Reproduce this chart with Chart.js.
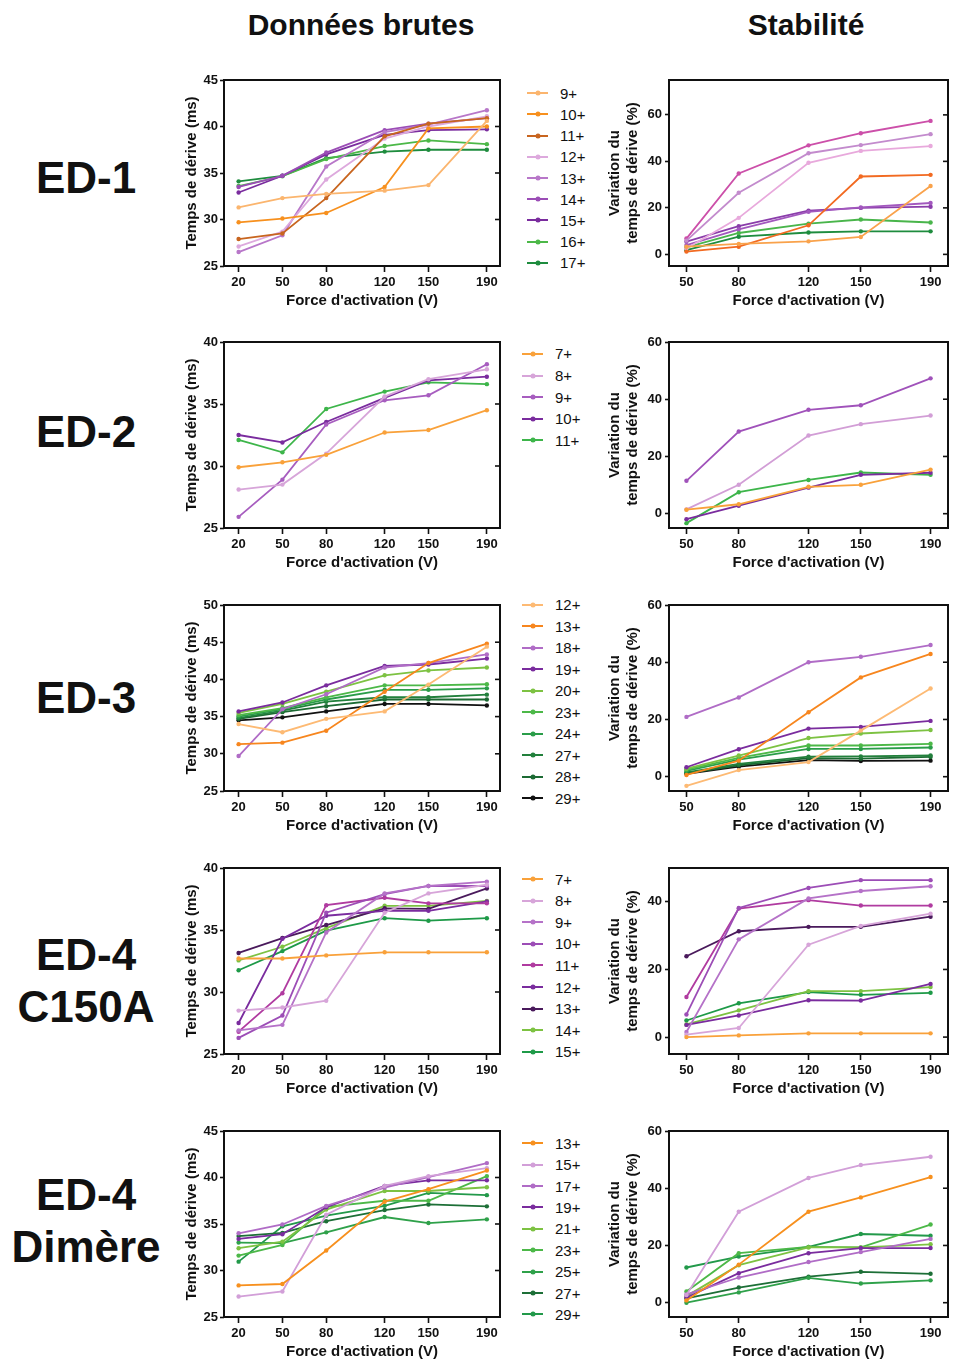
<!DOCTYPE html>
<html><head><meta charset="utf-8">
<script src="https://cdn.jsdelivr.net/npm/chart.js@4.4.1/dist/chart.umd.min.js"></script>
<style>
body{margin:0;background:#fff;width:953px;height:1365px;position:relative;overflow:hidden;font-family:"Liberation Sans",Arial,sans-serif;color:#111}
.title{position:absolute;font-size:30px;font-weight:bold;transform:translate(-50%,-50%);white-space:nowrap;line-height:1}
.rowlab{position:absolute;font-size:44px;font-weight:bold;transform:translate(-50%,-50%);text-align:center;line-height:52px;white-space:nowrap}
.leg{position:absolute}
.item{display:flex;align-items:center;font-size:15px;white-space:nowrap}
.sw{position:relative;width:21px;height:2px;margin-right:12px}
.sw i{position:absolute;left:50%;top:50%;width:5px;height:5px;border-radius:50%;transform:translate(-50%,-50%)}
canvas{position:absolute}
</style></head><body>
<div class="title" style="left:361px;top:25px">Données brutes</div>
<div class="title" style="left:806px;top:25px">Stabilité</div>
<div class="rowlab" style="left:86px;top:178px">ED-1</div>
<div class="rowlab" style="left:86px;top:432px">ED-2</div>
<div class="rowlab" style="left:86px;top:698px">ED-3</div>
<div class="rowlab" style="left:86px;top:981px">ED-4<br>C150A</div>
<div class="rowlab" style="left:86px;top:1221px">ED-4<br>Dimère</div>
<script>
// ---------- data ----------
const voltsRaw = [20, 50, 80, 120, 150, 190];
const voltsVar = [50, 80, 120, 150, 190];
const xTitle = "Force d'activation (V)";
const yTitleRaw = "Temps de dérive (ms)";
const yTitleVar = ["Variation du", "temps de dérive (%)"];

// ED-1
const ed1Ions = ['9+','10+','11+','12+','13+','14+','15+','16+','17+'];
const ed1Raw = [
  [31.3, 32.3, 32.75, 33.1, 33.7, 40.6],
  [29.7, 30.1, 30.7, 33.5, 39.8, 40.0],
  [27.9, 28.5, 32.3, 38.95, 40.3, 40.9],
  [27.1, 28.7, 34.3, 38.7, 40.0, 41.1],
  [26.5, 28.3, 35.7, 39.4, 40.2, 41.75],
  [33.5, 34.7, 37.2, 39.6, 40.3, 40.9],
  [32.9, 34.7, 37.0, 39.1, 39.6, 39.7],
  [33.6, 34.65, 36.5, 37.9, 38.5, 38.1],
  [34.1, 34.7, 36.6, 37.3, 37.5, 37.5]
];
const ed1Var = [
  [3.3, 4.5, 5.6, 7.5, 29.4],
  [1.2, 3.3, 12.5, 33.5, 34.2],
  [2.5, 15.7, 39.4, 44.5, 46.6],
  [5.9, 26.5, 43.5, 47.0, 51.7],
  [6.8, 34.8, 46.9, 52.1, 57.4],
  [4.0, 10.8, 18.3, 20.2, 22.1],
  [5.5, 12.1, 18.8, 20.0, 20.5],
  [3.0, 9.2, 13.2, 15.0, 13.7],
  [1.8, 7.6, 9.4, 9.9, 9.9]
];
const ed1RawColors = ['#FBB56E','#F7901E','#C8651F','#DDA9DD','#B877C9','#9B4DB6','#7A2C9E','#4CB848','#1E8C3E'];
const ed1VarColors = ['#F9A24B','#F26A21','#E8A9DC','#C38BCD','#CC4FA9','#A258BE','#8A3DAA','#49B54B','#1E8C3E'];

// ED-2
const ed2Ions = ['7+','8+','9+','10+','11+'];
const ed2Raw = [
  [29.9, 30.3, 30.9, 32.7, 32.9, 34.5],
  [28.1, 28.5, 31.0, 35.6, 37.0, 37.8],
  [25.9, 28.9, 33.35, 35.3, 35.7, 38.2],
  [32.5, 31.9, 33.55, 35.5, 36.9, 37.2],
  [32.1, 31.1, 34.6, 36.0, 36.75, 36.6]
];
const ed2Var = [
  [1.4, 3.3, 9.4, 10.1, 15.4],
  [1.5, 10.1, 27.3, 31.3, 34.3],
  [11.5, 28.7, 36.3, 37.9, 47.3],
  [-1.9, 2.8, 9.1, 13.6, 14.3],
  [-3.3, 7.5, 11.8, 14.4, 13.6]
];
const ed2RawColors = ['#F9A13A','#D7A5D9','#A75DBF','#7A2C9E','#3DB54A'];
const ed2VarColors = ['#F9A13A','#D29ED6','#A052BA','#7A2C9E','#3DB54A'];

// ED-3
const ed3Ions = ['12+','13+','18+','19+','20+','23+','24+','27+','28+','29+'];
const ed3Raw = [
  [34.0, 32.9, 34.7, 35.7, 39.3, 44.4],
  [31.3, 31.5, 33.1, 38.35, 42.2, 44.8],
  [29.7, 36.0, 38.0, 41.6, 42.2, 43.35],
  [35.7, 36.9, 39.2, 41.8, 42.0, 42.8],
  [35.5, 36.7, 38.35, 40.55, 41.2, 41.6],
  [35.2, 36.15, 37.6, 39.2, 39.2, 39.35],
  [35.0, 36.0, 37.3, 38.6, 38.6, 38.8],
  [34.8, 35.8, 37.0, 37.6, 37.6, 37.95],
  [34.7, 35.6, 36.4, 37.3, 37.3, 37.3],
  [34.5, 34.9, 35.7, 36.7, 36.7, 36.5]
];
const ed3Var = [
  [-3.2, 2.3, 5.1, 16.1, 30.8],
  [0.6, 5.6, 22.5, 34.7, 42.9],
  [20.9, 27.7, 40.0, 41.9, 46.0],
  [3.3, 9.6, 16.8, 17.4, 19.5],
  [2.8, 7.4, 13.5, 15.1, 16.3],
  [2.5, 6.6, 10.9, 10.9, 11.5],
  [2.0, 6.0, 9.7, 9.7, 10.2],
  [1.5, 4.5, 7.0, 7.1, 7.4],
  [1.2, 4.0, 6.5, 6.3, 6.9],
  [1.0, 3.5, 5.8, 5.5, 5.6]
];
const ed3Colors = ['#FDBA74','#F7861E','#B06CC6','#7A2C9E','#7DC242','#4CB848','#2A9D49','#22803C','#1C6A33','#111111'];

// ED-4 C150A
const ed4Ions = ['7+','8+','9+','10+','11+','12+','13+','14+','15+'];
const ed4Raw = [
  [32.7, 32.7, 32.95, 33.2, 33.2, 33.2],
  [28.5, 28.75, 29.3, 36.4, 37.95, 38.65],
  [26.9, 27.35, 34.8, 37.95, 38.55, 38.9],
  [26.3, 28.1, 36.4, 37.9, 38.55, 38.55],
  [26.8, 29.9, 37.0, 37.6, 37.15, 37.15],
  [27.5, 34.3, 36.15, 36.55, 36.55, 37.3],
  [33.15, 34.35, 35.4, 36.75, 36.7, 38.35],
  [32.55, 33.65, 35.15, 36.95, 36.95, 37.35],
  [31.75, 33.3, 34.95, 35.95, 35.75, 35.95]
];
const ed4Var = [
  [0.0, 0.5, 1.1, 1.1, 1.1],
  [0.7, 2.7, 27.3, 32.9, 36.5],
  [1.5, 28.9, 41.0, 43.2, 44.6],
  [6.7, 38.2, 44.1, 46.4, 46.4],
  [11.85, 38.0, 40.5, 38.9, 38.9],
  [23.9, 31.3, 32.6, 32.6, 35.6],
  [3.6, 6.4, 10.9, 10.8, 15.7],
  [3.75, 7.9, 13.6, 13.6, 14.8],
  [4.9, 10.0, 13.3, 12.5, 13.1]
];
const ed4RawColors = ['#F9A13A','#D7A5D9','#B572C8','#9C4DB6','#B03BA0','#7A2C9E','#4A1A5C','#7DC242','#1E9A48'];
const ed4VarColors = ['#F9A13A','#D7A5D9','#B572C8','#9C4DB6','#B03BA0','#4A1A5C','#7A2C9E','#7DC242','#1E9A48'];

// ED-4 Dimère
const ed5Ions = ['13+','15+','17+','19+','21+','23+','25+','27+','29+'];
const ed5Raw = [
  [28.4, 28.55, 32.15, 37.4, 38.75, 40.75],
  [27.2, 27.75, 36.0, 39.1, 40.15, 41.0],
  [34.0, 34.95, 36.95, 38.9, 40.05, 41.55],
  [33.4, 33.9, 36.8, 39.1, 39.7, 39.7],
  [32.4, 33.1, 36.55, 38.55, 38.55, 38.95],
  [31.6, 32.75, 36.85, 37.5, 37.5, 40.15],
  [33.0, 32.95, 34.1, 35.75, 35.1, 35.5],
  [33.7, 34.05, 35.3, 36.5, 37.1, 36.9],
  [30.95, 34.75, 35.9, 36.95, 38.35, 38.1]
];
const ed5Var = [
  [0.8, 13.3, 31.8, 36.8, 43.9],
  [2.7, 31.8, 43.6, 48.1, 51.0],
  [2.9, 8.8, 14.2, 17.7, 22.3],
  [1.8, 10.3, 17.3, 19.1, 19.1],
  [2.3, 13.1, 19.3, 19.3, 20.4],
  [3.9, 17.3, 19.5, 19.3, 27.3],
  [0.0, 3.6, 8.7, 6.7, 7.8],
  [1.5, 5.3, 9.1, 10.8, 10.1],
  [12.3, 16.1, 19.5, 24.0, 23.4]
];
const ed5Colors = ['#F7901E','#D29FD8','#B06CC6','#7A2C9E','#7DC242','#4CB848','#2FA14A','#1D6F37','#22994A'];

// y-axis ranges / ticks
const rawRanges = [[25,45],[25,40],[25,50],[25,40],[25,45]];
const varRanges = [[-5,75],[-5,60],[-5,60],[-5,50],[-5,60]];
const varTicks = [[0,20,40,60],[0,20,40,60],[0,20,40,60],[0,20,40],[0,20,40,60]];

// ---------- layout ----------
const rows = [
  {ions: ed1Ions, raw: ed1Raw, rawC: ed1RawColors, vr: ed1Var, varC: ed1VarColors, plotTop: 80, legTop: 93.3, legStep: 21.2, legX: 527},
  {ions: ed2Ions, raw: ed2Raw, rawC: ed2RawColors, vr: ed2Var, varC: ed2VarColors, plotTop: 342, legTop: 354, legStep: 21.6, legX: 522},
  {ions: ed3Ions, raw: ed3Raw, rawC: ed3Colors, vr: ed3Var, varC: ed3Colors, plotTop: 605, legTop: 604.7, legStep: 21.5, legX: 522},
  {ions: ed4Ions, raw: ed4Raw, rawC: ed4RawColors, vr: ed4Var, varC: ed4VarColors, plotTop: 868, legTop: 879.3, legStep: 21.55, legX: 522},
  {ions: ed5Ions, raw: ed5Raw, rawC: ed5Colors, vr: ed5Var, varC: ed5Colors, plotTop: 1131, legTop: 1143.3, legStep: 21.4, legX: 522}
];
const PLOT_H = 186, PAD_TOP = 12, X_H = 45;
const INK = '#111111';
const FONT = '"Liberation Sans", Arial, sans-serif';

const framePlugin = {
  id: 'frame',
  afterDraw(chart) {
    const {ctx, chartArea: a} = chart;
    const y = chart.scales.y;
    ctx.save();
    ctx.strokeStyle = INK;
    ctx.lineWidth = 2;
    ctx.strokeRect(a.left, a.top, a.right - a.left, a.bottom - a.top);
    ctx.lineWidth = 1.6;
    y.ticks.forEach(t => {
      const py = y.getPixelForValue(t.value);
      if (py > a.top + 2 && py < a.bottom - 2) {
        ctx.beginPath(); ctx.moveTo(a.right, py); ctx.lineTo(a.right - 5, py); ctx.stroke();
      }
    });
    ctx.restore();
  }
};

function makeChart(o) {
  const cv = document.createElement('canvas');
  cv.width = o.w; cv.height = PAD_TOP + PLOT_H + X_H;
  cv.style.left = o.left + 'px'; cv.style.top = (o.plotTop - PAD_TOP) + 'px';
  cv.style.width = cv.width + 'px'; cv.style.height = cv.height + 'px';
  document.body.appendChild(cv);
  const datasets = o.series.map((vals, i) => ({
    label: o.labels[i],
    data: vals.map((v, j) => ({x: o.xs[j], y: v})),
    borderColor: o.colors[i],
    backgroundColor: o.colors[i],
    pointBackgroundColor: o.colors[i],
    pointBorderWidth: 0,
    pointRadius: 2.2,
    borderWidth: 1.8,
    tension: 0
  }));
  const tickFont = {family: FONT, size: 13, weight: 'bold'};
  const titleFont = {family: FONT, size: 15, weight: 'bold'};
  new Chart(cv, {
    type: 'line',
    data: {datasets},
    plugins: [framePlugin],
    options: {
      responsive: false, animation: false, devicePixelRatio: 1,
      layout: {padding: {top: PAD_TOP, right: o.padRight, left: 0, bottom: 0}},
      plugins: {legend: {display: false}, tooltip: {enabled: false}},
      scales: {
        x: {
          type: 'linear', min: o.xMin, max: o.xMax,
          afterBuildTicks: s => { s.ticks = o.xs.map(v => ({value: v})); },
          ticks: {font: tickFont, color: INK, padding: 3, maxRotation: 0, autoSkip: false},
          grid: {display: true, drawOnChartArea: false, drawTicks: true, tickLength: 6, tickColor: INK, tickWidth: 1.6},
          border: {display: false},
          title: {display: true, text: xTitle, font: titleFont, color: INK, padding: {top: 0, bottom: 1}},
          afterFit: s => { s.height = X_H; }
        },
        y: {
          type: 'linear', min: o.yMin, max: o.yMax,
          afterBuildTicks: s => { s.ticks = o.yTicks.map(v => ({value: v})); },
          ticks: {font: tickFont, color: INK, padding: o.yPad, autoSkip: false},
          grid: {display: true, drawOnChartArea: false, drawTicks: true, tickLength: 4, tickColor: INK, tickWidth: 1.6},
          border: {display: false},
          title: {display: true, text: o.yTitle, font: titleFont, color: INK, padding: {top: o.yTitlePad, bottom: 0}},
          afterFit: s => { s.width = o.yW; }
        }
      }
    }
  });
}

function makeLegend(r) {
  const d = document.createElement('div');
  d.className = 'leg';
  d.style.left = r.legX + 'px';
  d.style.top = (r.legTop - r.legStep / 2) + 'px';
  r.ions.forEach((lab, i) => {
    const it = document.createElement('div');
    it.className = 'item';
    it.style.height = r.legStep + 'px';
    const sw = document.createElement('span');
    sw.className = 'sw';
    sw.style.background = r.rawC[i];
    const dot = document.createElement('i');
    dot.style.background = r.rawC[i];
    sw.appendChild(dot);
    const t = document.createElement('span');
    t.textContent = lab;
    it.appendChild(sw); it.appendChild(t);
    d.appendChild(it);
  });
  document.body.appendChild(d);
}

rows.forEach((r, k) => {
  const [rmin, rmax] = rawRanges[k];
  const rt = []; for (let v = rmin; v <= rmax; v += 5) rt.push(v);
  makeChart({left: 175, w: 335, padRight: 10, plotTop: r.plotTop, yW: 49, yPad: 2, yTitlePad: 8,
    xs: voltsRaw, xMin: 10, xMax: 199, yMin: rmin, yMax: rmax, yTicks: rt, yTitle: yTitleRaw,
    series: r.raw, colors: r.rawC, labels: r.ions});
  const [vmin, vmax] = varRanges[k];
  makeChart({left: 600, w: 353, padRight: 5, plotTop: r.plotTop, yW: 69, yPad: 3, yTitlePad: 6,
    xs: voltsVar, xMin: 40, xMax: 200, yMin: vmin, yMax: vmax, yTicks: varTicks[k], yTitle: yTitleVar,
    series: r.vr, colors: r.varC, labels: r.ions});
  makeLegend(r);
});
</script>
</body></html>
